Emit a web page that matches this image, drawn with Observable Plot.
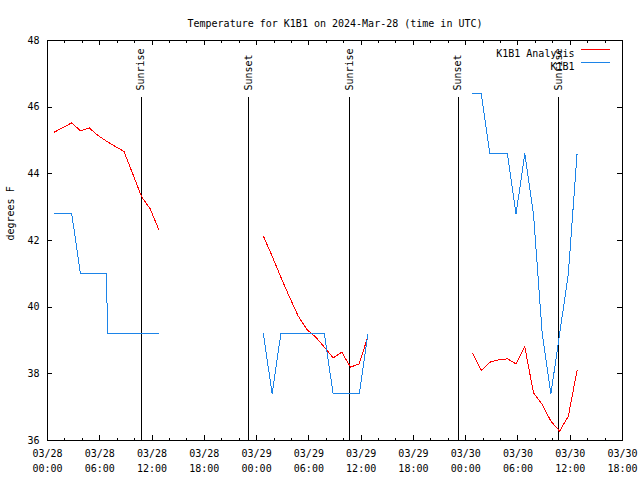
<!DOCTYPE html>
<html><head><meta charset="utf-8">
<script src="https://cdn.jsdelivr.net/npm/d3@7"></script>
<script src="https://cdn.jsdelivr.net/npm/@observablehq/plot@0.6"></script>
<style>
body{margin:0;background:#fff;}
#chart svg{display:block;}
</style></head><body><div id="chart"></div>
<script>
const title = "Temperature for K1B1 on 2024-Mar-28 (time in UTC)";
const yLabel = "degrees F";
const seriesNames = ["K1B1 Analysis", "K1B1"];
const seriesColors = ["#ff0000", "#1c84e8"];
const days = ["2024-03-28", "2024-03-29", "2024-03-30"];
const hourly = ["00:47","01:47","02:47","03:47","04:47","05:47","06:47","07:47","08:47","09:47","10:47","11:47","12:47"];
const analysis28 = [45.25,45.39,45.53,45.29,45.38,45.15,44.98,44.82,44.67,44.0,43.32,42.95,42.32];
const analysis29 = [42.13,41.53,40.9,40.3,39.73,39.33,39.1,38.8,38.48,38.65,38.2,38.3,39.13];
const analysis30 = [38.62,38.1,38.35,38.42,38.45,38.3,38.81,37.43,37.08,36.58,36.28,36.73,38.1];
const obsHours28 = ["00:47","01:47","02:47","03:47","04:47","05:47","06:47","06:53","07:47","08:47","09:47","10:47","11:47","12:47"];
const obs28 = [42.8,42.8,42.8,41.0,41.0,41.0,41.0,39.2,39.2,39.2,39.2,39.2,39.2,39.2];
const obs29 = [39.2,37.4,39.2,39.2,39.2,39.2,39.2,39.2,37.4,37.4,37.4,37.4,39.2];
const obs30 = [46.4,46.4,44.6,44.6,44.6,42.8,44.6,42.8,39.2,37.4,39.2,41.0,44.6];
const sunTimes = ["2024-03-28T10:45Z","2024-03-28T23:06Z","2024-03-29T10:43Z","2024-03-29T23:08Z","2024-03-30T10:41Z"];
const sunLabels = ["Sunrise","Sunset","Sunrise","Sunset","Sunrise"];
const xTicks = ["2024-03-28T00:00Z","2024-03-28T06:00Z","2024-03-28T12:00Z","2024-03-28T18:00Z",
  "2024-03-29T00:00Z","2024-03-29T06:00Z","2024-03-29T12:00Z","2024-03-29T18:00Z",
  "2024-03-30T00:00Z","2024-03-30T06:00Z","2024-03-30T12:00Z","2024-03-30T18:00Z"];
const yTicks = [36,38,40,42,44,46,48];
const xDomain = ["2024-03-28T00:00Z","2024-03-30T18:00Z"];
const yDomain = [36,48];

const rows = [];
function add(series, day, hours, values){
  hours.forEach((h,i)=>rows.push({series, seg: series+day, time: new Date(`${day}T${h}Z`), temp: values[i]}));
}
add(seriesNames[0], days[0], hourly, analysis28);
add(seriesNames[0], days[1], hourly, analysis29);
add(seriesNames[0], days[2], hourly, analysis30);
add(seriesNames[1], days[0], obsHours28, obs28);
add(seriesNames[1], days[1], hourly, obs29);
add(seriesNames[1], days[2], hourly, obs30);

const sun = sunTimes.map((t,i)=>({time:new Date(t), label:sunLabels[i]}));
const majorX = xTicks.map(t=>new Date(t));
const dom = xDomain.map(t=>new Date(t));
const minorX = d3.utcHour.every(2).range(dom[0], new Date(+dom[1]+1));
const fmt = d3.utcFormat("%m/%d\n%H:%M");
const font = "'DejaVu Sans Mono', 'Liberation Mono', monospace";

// legend swatches coloured through the chart's own colour scale
function legendLines(index, scales, values, dims) {
  const g = d3.create("svg:g");
  const right = dims.width - dims.marginRight;
  seriesNames.forEach((name, i) => {
    g.append("rect")
      .attr("x", right - 41).attr("width", 29)
      .attr("y", dims.marginTop + 9 + 13 * i).attr("height", 1)
      .attr("fill", scales.color(name)).attr("shape-rendering", "crispEdges");
  });
  return g.node();
}

const chart = Plot.plot({
  width: 640, height: 480,
  marginTop: 40, marginBottom: 40, marginLeft: 47, marginRight: 18,
  style: {fontFamily: font, fontSize: "10px", background: "#fff", color: "#000"},
  x: {type: "utc", domain: dom, axis: null},
  y: {domain: yDomain, axis: null},
  color: {domain: seriesNames, range: seriesColors},
  marks: [
    Plot.ruleX(sun, {x: "time", insetTop: 57, stroke: "#000", strokeWidth: 1, shapeRendering: "crispEdges"}),
    Plot.text(sun, {x: "time", text: "label", frameAnchor: "top", rotate: -90, textAnchor: "start", lineAnchor: "middle", dy: 50, fill: "#000"}),
    Plot.line(rows, {x: "time", y: "temp", z: "seg", stroke: "series", strokeWidth: 1, curve: "linear", shapeRendering: "crispEdges"}),
    Plot.ruleX(minorX, {x: d=>d, insetTop: 397.5, stroke: "#000", shapeRendering: "crispEdges"}),
    Plot.ruleX(minorX, {x: d=>d, insetBottom: 397.5, stroke: "#000", shapeRendering: "crispEdges"}),
    Plot.ruleX(majorX, {x: d=>d, insetTop: 395, stroke: "#000", shapeRendering: "crispEdges"}),
    Plot.ruleX(majorX, {x: d=>d, insetBottom: 395, stroke: "#000", shapeRendering: "crispEdges"}),
    Plot.ruleY(yTicks, {y: d=>d, insetRight: 570, stroke: "#000", shapeRendering: "crispEdges"}),
    Plot.ruleY(yTicks, {y: d=>d, insetLeft: 570, stroke: "#000", shapeRendering: "crispEdges"}),
    Plot.frame({stroke: "#000", strokeWidth: 1, shapeRendering: "crispEdges"}),
    Plot.text(majorX, {x: d=>d, text: d=>fmt(d), frameAnchor: "bottom", lineAnchor: "middle", lineHeight: 1.5, dy: 19.5, fill: "#000"}),
    Plot.text(yTicks, {y: d=>d, text: d=>String(d), frameAnchor: "left", textAnchor: "end", dx: -8, fill: "#000"}),
    Plot.text([yLabel], {frameAnchor: "left", rotate: -90, dx: -37, fill: "#000"}),
    Plot.text([title], {frameAnchor: "top", dy: -21, fill: "#000"}),
    Plot.text([seriesNames[0]], {frameAnchor: "top-right", textAnchor: "end", dx: -48, dy: 9.5, fill: "#000"}),
    Plot.text([seriesNames[1]], {frameAnchor: "top-right", textAnchor: "end", dx: -48, dy: 22.5, fill: "#000"}),
    legendLines
  ]
});
document.getElementById("chart").appendChild(chart);
</script>
</body></html>
